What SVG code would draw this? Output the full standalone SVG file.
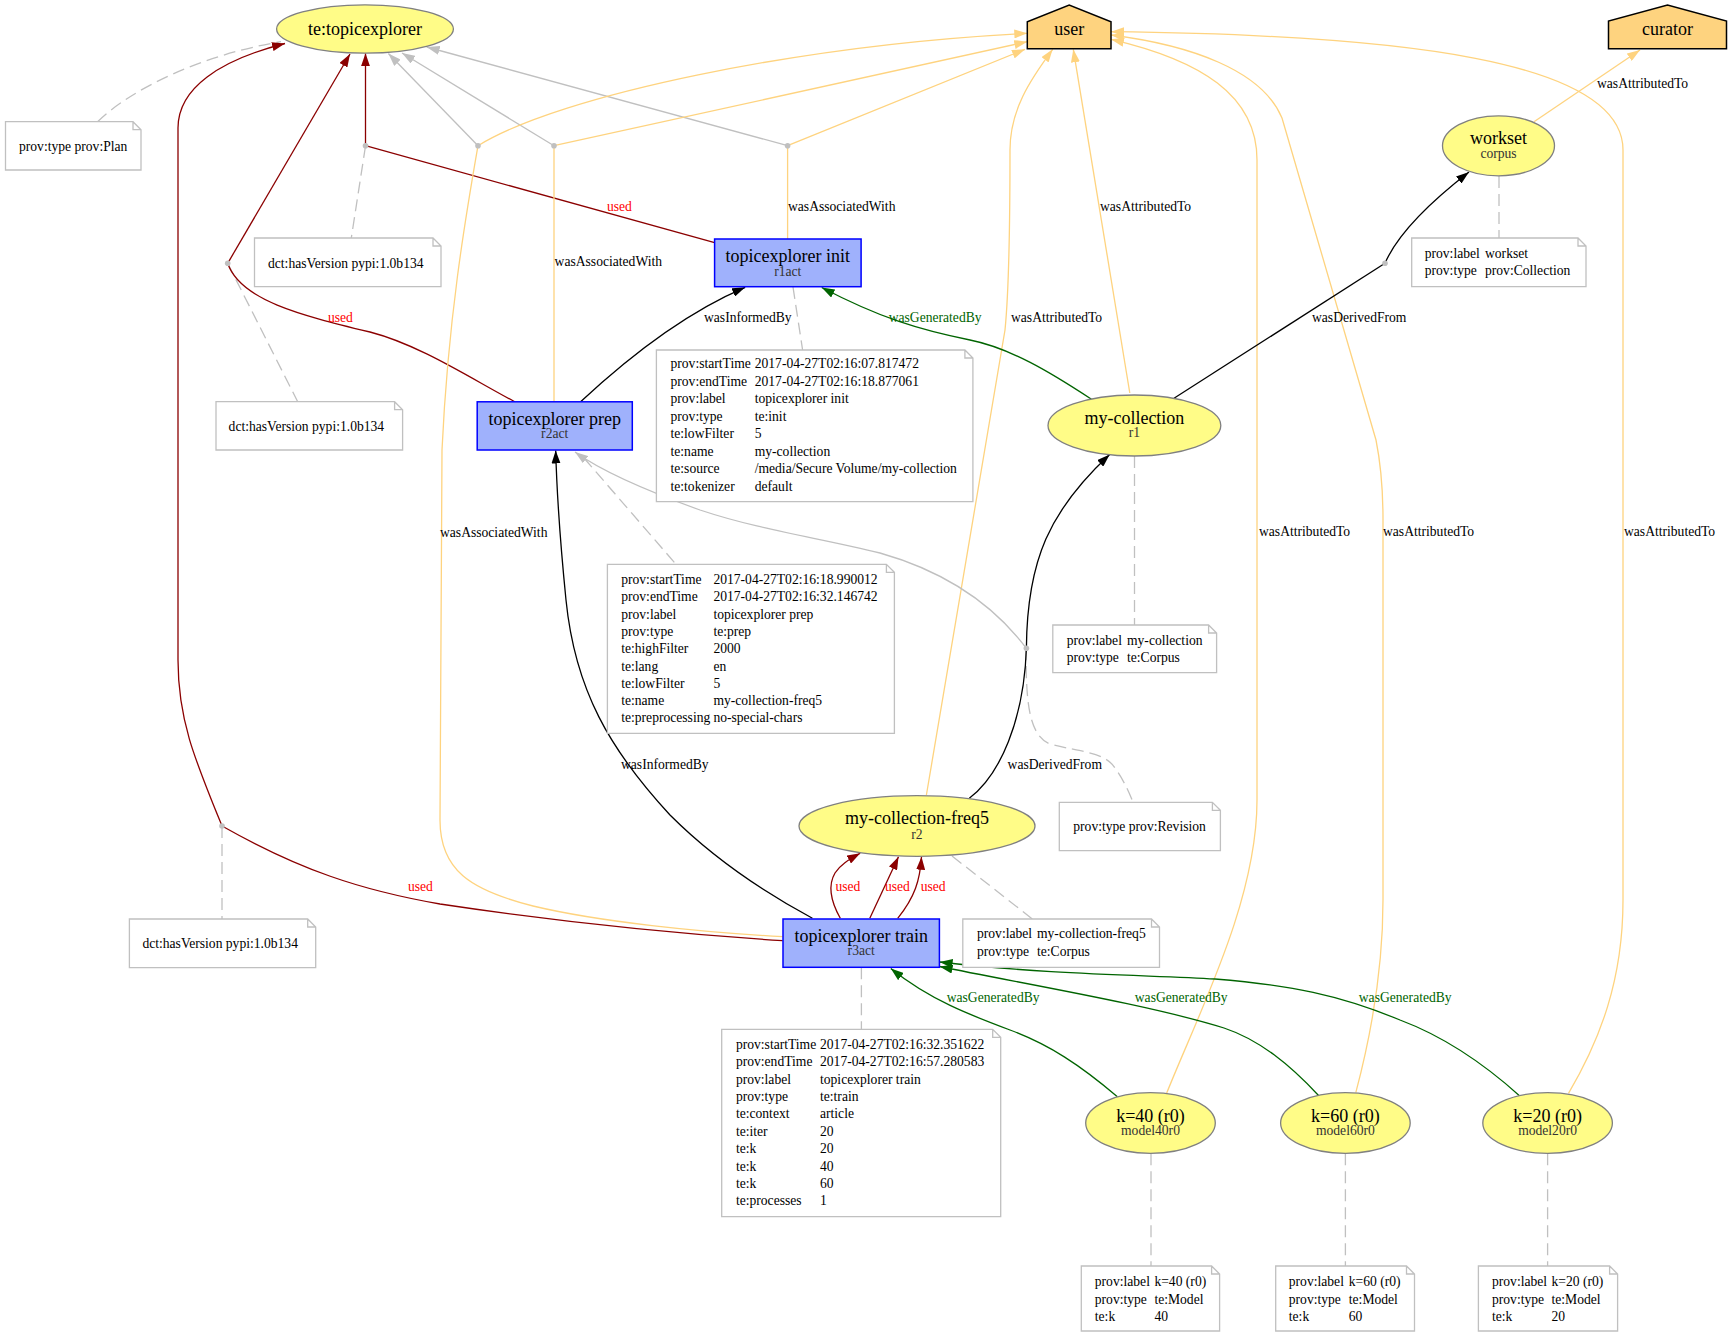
<svg xmlns="http://www.w3.org/2000/svg" width="1732" height="1337" viewBox="0 0 1732 1337">
<style>
.ent{fill:#FFFC87;stroke:#808080;stroke-width:1.3}
.act{fill:#9FB1FC;stroke:#0000FF;stroke-width:1.5}
.agt{fill:#FED37F;stroke:#000;stroke-width:1.5}
.note{fill:#fff;stroke:#C0C0C0;stroke-width:1.3}
.bn{fill:#C0C0C0;stroke:none}
.lbl{font-family:"Liberation Serif",serif;font-size:18px;text-anchor:middle;fill:#000}
.sub{font-family:"Liberation Serif",serif;font-size:13.6px;text-anchor:middle;fill:#333}
.nt{font-family:"Liberation Serif",serif;font-size:13.6px;fill:#000}
.el{font-family:"Liberation Serif",serif;font-size:13.6px;fill:#000}
.red{fill:#FF0000}
.grn{fill:#006400}
.e{fill:none;stroke-width:1.3}
.k{stroke:#000}
.dr{stroke:#8B0000}
.gy{stroke:#C0C0C0}
.gn{stroke:#006400}
.or{stroke:#FED37F}
.dash{fill:none;stroke:#C0C0C0;stroke-width:1.3;stroke-dasharray:12,6}
</style>
<defs>
<marker id="ak" markerUnits="userSpaceOnUse" viewBox="0 0 13 9" refX="13" refY="4.5" markerWidth="13" markerHeight="9" orient="auto"><path d="M0,0 L13,4.5 L0,9 Z" fill="#000"/></marker>
<marker id="ar" markerUnits="userSpaceOnUse" viewBox="0 0 13 9" refX="13" refY="4.5" markerWidth="13" markerHeight="9" orient="auto"><path d="M0,0 L13,4.5 L0,9 Z" fill="#8B0000"/></marker>
<marker id="ag" markerUnits="userSpaceOnUse" viewBox="0 0 13 9" refX="13" refY="4.5" markerWidth="13" markerHeight="9" orient="auto"><path d="M0,0 L13,4.5 L0,9 Z" fill="#C0C0C0"/></marker>
<marker id="agn" markerUnits="userSpaceOnUse" viewBox="0 0 13 9" refX="13" refY="4.5" markerWidth="13" markerHeight="9" orient="auto"><path d="M0,0 L13,4.5 L0,9 Z" fill="#006400"/></marker>
<marker id="ao" markerUnits="userSpaceOnUse" viewBox="0 0 13 9" refX="13" refY="4.5" markerWidth="13" markerHeight="9" orient="auto"><path d="M0,0 L13,4.5 L0,9 Z" fill="#FED37F"/></marker>
</defs>
<rect width="1732" height="1337" fill="#fff"/>

<g id="connectors">
<!-- note links -->
<path class="dash" d="M97.6,121.7 C130,90 200,55 281,41.7"/>
<path class="dash" d="M365.5,146 L351.3,238"/>
<path class="dash" d="M227.7,263.3 L297.7,401.7"/>
<path class="dash" d="M222,826 L222,919"/>
<path class="dash" d="M793,287 L802.6,350"/>
<path class="dash" d="M584,458 L676,564.3"/>
<path class="dash" d="M1499,176 L1499,238"/>
<path class="dash" d="M1134.5,456 L1134.5,625"/>
<path class="dash" d="M1026,648 C1026,700 1028,735 1050,744 C1080,752 1105,752 1115,768 C1125,782 1130,795 1133,802"/>
<path class="dash" d="M952,856 L1032.4,919"/>
<path class="dash" d="M861.4,967.3 L861.4,1029.3"/>
<path class="dash" d="M1151,1153.3 L1151,1266"/>
<path class="dash" d="M1345.4,1153.3 L1345.4,1266"/>
<path class="dash" d="M1547.6,1153.3 L1547.6,1266"/>

<!-- used (init) via b1 -->
<path class="e dr" d="M714.6,242.7 L365.5,145.7"/>
<path class="e dr" marker-end="url(#ar)" d="M365.5,145.7 L365.5,53.3"/>
<!-- used (prep) via b5 -->
<path class="e dr" d="M514.7,401.7 C470,378 420,345 370,332 C300,315 240,300 227.7,263.3"/>
<path class="e dr" marker-end="url(#ar)" d="M227.7,263.3 L350,54"/>
<!-- used (train) via b6 -->
<path class="e dr" d="M782.7,940.7 C680,934 560,922 440,904 C360,890 300,870 222,826"/>
<path class="e dr" marker-end="url(#ar)" d="M222,826 C195,760 178,720 178,660 L178,128 C178,88 220,60 285,43.5"/>

<!-- plan links (gray) -->
<path class="e gy" marker-end="url(#ag)" d="M478,145.7 L388.4,53.5"/>
<path class="e gy" marker-end="url(#ag)" d="M554,145.7 L402,53"/>
<path class="e gy" marker-end="url(#ag)" d="M787.6,145.7 L426.7,47"/>

<!-- wasAssociatedWith -->
<path class="e or" marker-end="url(#ao)" d="M478,145.7 C560,95 800,45 1027.3,33.3"/>
<path class="e or" d="M478,145.7 C465,220 448,320 442,450 L440,820 C440,870 470,890 533,906 C600,922 700,932 782.7,936.7"/>
<path class="e or" marker-end="url(#ao)" d="M554,145.7 L1027.3,41.7"/>
<path class="e or" d="M554,145.7 L554,401.7"/>
<path class="e or" marker-end="url(#ao)" d="M787.6,145.7 L1025,49.3"/>
<path class="e or" d="M787.6,145.7 L787.6,239"/>

<!-- wasAttributedTo -->
<path class="e or" marker-end="url(#ao)" d="M926.4,795 L1005,330 C1010,280 1010,200 1010,150 C1010,110 1030,80 1052.7,49.3"/>
<path class="e or" marker-end="url(#ao)" d="M1129.8,393 L1073.3,49.3"/>
<path class="e or" marker-end="url(#ao)" d="M1166.6,1093.3 C1200,1010 1257,900 1257,800 L1257,160 C1257,95 1200,60 1111,39.3"/>
<path class="e or" marker-end="url(#ao)" d="M1355.8,1092.7 C1375,1020 1383,960 1383,900 L1383,520 C1383,480 1380,460 1376,440 L1282,118 C1262,70 1190,45 1111,35"/>
<path class="e or" marker-end="url(#ao)" d="M1568.5,1093.3 C1600,1040 1623,980 1623,900 L1623,150 C1623,60 1400,35 1111,31.7"/>
<path class="e or" marker-end="url(#ao)" d="M1534,121.7 L1640,50"/>

<!-- wasInformedBy -->
<path class="e k" marker-end="url(#ak)" d="M580.6,401.7 C620,365 680,315 745.2,287.3"/>
<path class="e k" marker-end="url(#ak)" d="M812.4,918.3 C760,890 710,855 670,815 C610,750 575,690 566,600 C562,560 557,500 555.7,450.5"/>

<!-- wasGeneratedBy -->
<path class="e gn" marker-end="url(#agn)" d="M1091.5,399.3 C1050,372 1010,348 970,340 C920,330 880,318 821.7,287.5"/>
<path class="e gn" marker-end="url(#agn)" d="M1117.4,1096.7 C1080,1065 1050,1045 1010,1030 C970,1015 930,1000 890.8,968.5"/>
<path class="e gn" marker-end="url(#agn)" d="M1318.8,1095.7 C1290,1065 1260,1040 1224,1028 C1150,1005 1030,985 939.6,966.5"/>
<path class="e gn" marker-end="url(#agn)" d="M1520.6,1096.7 C1480,1060 1440,1035 1400,1020 C1340,995 1290,985 1215,979 C1150,975 1050,975 939.6,962"/>

<!-- wasDerivedFrom -->
<path class="e k" d="M1174,398.3 L1385,263.3"/>
<path class="e k" marker-end="url(#ak)" d="M1385,263.3 C1395,240 1420,210 1469,172"/>
<path class="e k" d="M969.3,798.3 C1000,775 1024,720 1026.4,648.3"/>
<path class="e k" marker-end="url(#ak)" d="M1026.4,648.3 C1027,560 1050,510 1109.7,454.5"/>
<path class="e gy" marker-end="url(#ag)" d="M1026.4,648.3 C990,600 940,570 880,553 C820,538 760,530 700,510 C650,492 600,470 575,452"/>

<!-- used freq5 -->
<path class="e dr" marker-end="url(#ar)" d="M840.3,918.3 C830,900 828,885 835,873 C840,865 848,860 860.2,853.3"/>
<path class="e dr" marker-end="url(#ar)" d="M869.8,918.3 L898.5,856.7"/>
<path class="e dr" marker-end="url(#ar)" d="M897.7,918.3 C915,897 920,880 921.5,856.7"/>

<!-- blank nodes -->
<circle class="bn" cx="365.5" cy="145.7" r="2.8"/>
<circle class="bn" cx="478" cy="145.7" r="2.8"/>
<circle class="bn" cx="554" cy="145.7" r="2.8"/>
<circle class="bn" cx="787.6" cy="145.7" r="2.8"/>
<circle class="bn" cx="227.7" cy="263.3" r="2.8"/>
<circle class="bn" cx="222" cy="826" r="2.8"/>
<circle class="bn" cx="1385" cy="263.3" r="2.8"/>
<circle class="bn" cx="1026.4" cy="648.3" r="2.8"/>

<!-- edge labels -->
<text class="el red" x="607" y="211">used</text>
<text class="el" x="788" y="211">wasAssociatedWith</text>
<text class="el" x="554.6" y="266">wasAssociatedWith</text>
<text class="el red" x="328" y="322">used</text>
<text class="el" x="704" y="322">wasInformedBy</text>
<text class="el grn" x="888.7" y="322">wasGeneratedBy</text>
<text class="el" x="1011" y="322">wasAttributedTo</text>
<text class="el" x="1100" y="211">wasAttributedTo</text>
<text class="el" x="1312" y="322">wasDerivedFrom</text>
<text class="el" x="1597" y="88">wasAttributedTo</text>
<text class="el" x="440" y="536.5">wasAssociatedWith</text>
<text class="el" x="1259" y="536">wasAttributedTo</text>
<text class="el" x="1383" y="536">wasAttributedTo</text>
<text class="el" x="1624" y="536">wasAttributedTo</text>
<text class="el" x="621" y="768.5">wasInformedBy</text>
<text class="el" x="1007.6" y="768.5">wasDerivedFrom</text>
<text class="el red" x="408" y="891">used</text>
<text class="el red" x="835.4" y="891">used</text>
<text class="el red" x="885" y="891">used</text>
<text class="el red" x="920.7" y="891">used</text>
<text class="el grn" x="946.7" y="1002">wasGeneratedBy</text>
<text class="el grn" x="1134.8" y="1002">wasGeneratedBy</text>
<text class="el grn" x="1358.8" y="1002">wasGeneratedBy</text>
</g>

<g id="te-topicexplorer">
<ellipse class="ent" cx="365" cy="29" rx="88.4" ry="24.2"/>
<text class="lbl" x="365" y="35">te:topicexplorer</text>
</g>
<g id="user">
<polygon class="agt" points="1027.3,48.7 1111,48.7 1111,21.7 1069.2,5 1027.3,21.7"/>
<text class="lbl" x="1069.2" y="35">user</text>
</g>
<g id="curator">
<polygon class="agt" points="1608.5,48.7 1726.5,48.7 1726.5,21 1667.5,5 1608.5,21"/>
<text class="lbl" x="1667.5" y="35">curator</text>
</g>
<g id="workset">
<ellipse class="ent" cx="1498.5" cy="145.8" rx="56" ry="30"/>
<text class="lbl" x="1498.5" y="144">workset</text>
<text class="sub" x="1498.5" y="158">corpus</text>
</g>
<g id="init">
<rect class="act" x="714.6" y="239" width="146.5" height="47.7"/>
<text class="lbl" x="787.8" y="262">topicexplorer init</text>
<text class="sub" x="787.8" y="275.5">r1act</text>
</g>
<g id="prep">
<rect class="act" x="477.2" y="401.8" width="155.1" height="48.2"/>
<text class="lbl" x="554.7" y="424.5">topicexplorer prep</text>
<text class="sub" x="554.7" y="438">r2act</text>
</g>
<g id="my-collection">
<ellipse class="ent" cx="1134.4" cy="425.5" rx="86.4" ry="30.5"/>
<text class="lbl" x="1134.4" y="423.5">my-collection</text>
<text class="sub" x="1134.4" y="437">r1</text>
</g>
<g id="my-collection-freq5">
<ellipse class="ent" cx="917" cy="826" rx="118" ry="30.3"/>
<text class="lbl" x="917" y="824">my-collection-freq5</text>
<text class="sub" x="917" y="839">r2</text>
</g>
<g id="train">
<rect class="act" x="783" y="919" width="156.4" height="48.3"/>
<text class="lbl" x="861.2" y="941.5">topicexplorer train</text>
<text class="sub" x="861.2" y="955">r3act</text>
</g>
<g id="k40">
<ellipse class="ent" cx="1150.5" cy="1123" rx="64.8" ry="30.3"/>
<text class="lbl" x="1150.5" y="1121.5">k=40 (r0)</text>
<text class="sub" x="1150.5" y="1135">model40r0</text>
</g>
<g id="k60">
<ellipse class="ent" cx="1345.4" cy="1123" rx="64.8" ry="30.3"/>
<text class="lbl" x="1345.4" y="1121.5">k=60 (r0)</text>
<text class="sub" x="1345.4" y="1135">model60r0</text>
</g>
<g id="k20">
<ellipse class="ent" cx="1547.6" cy="1123" rx="64.8" ry="30.3"/>
<text class="lbl" x="1547.6" y="1121.5">k=20 (r0)</text>
<text class="sub" x="1547.6" y="1135">model20r0</text>
</g>

<g id="note-plan">
<path class="note" d="M5.5,121.7 H133 L141,129.7 V170 H5.5 Z M133,121.7 V129.7 H141"/>
<text class="nt" x="19" y="150.5">prov:type prov:Plan</text>
</g>
<g id="note-ver1">
<path class="note" d="M254.5,238 H433 L441,246 V286.7 H254.5 Z M433,238 V246 H441"/>
<text class="nt" x="268" y="267.5">dct:hasVersion pypi:1.0b134</text>
</g>
<g id="note-ver2">
<path class="note" d="M216,401.7 H394.6 L402.6,409.7 V450 H216 Z M394.6,401.7 V409.7 H402.6"/>
<text class="nt" x="228.6" y="431">dct:hasVersion pypi:1.0b134</text>
</g>
<g id="note-ver3">
<path class="note" d="M129.4,919 H307.7 L315.7,927 V967.7 H129.4 Z M307.7,919 V927 H315.7"/>
<text class="nt" x="142.4" y="948">dct:hasVersion pypi:1.0b134</text>
</g>
<g id="note-init">
<path class="note" d="M656.4,350 H964.9 L972.9,358 V501.7 H656.4 Z M964.9,350 V358 H972.9"/>
<text class="nt" x="670.5" y="368">prov:startTime</text><text class="nt" x="754.7" y="368">2017-04-27T02:16:07.817472</text>
<text class="nt" x="670.5" y="385.5">prov:endTime</text><text class="nt" x="754.7" y="385.5">2017-04-27T02:16:18.877061</text>
<text class="nt" x="670.5" y="403">prov:label</text><text class="nt" x="754.7" y="403">topicexplorer init</text>
<text class="nt" x="670.5" y="420.5">prov:type</text><text class="nt" x="754.7" y="420.5">te:init</text>
<text class="nt" x="670.5" y="438">te:lowFilter</text><text class="nt" x="754.7" y="438">5</text>
<text class="nt" x="670.5" y="455.5">te:name</text><text class="nt" x="754.7" y="455.5">my-collection</text>
<text class="nt" x="670.5" y="473">te:source</text><text class="nt" x="754.7" y="473">/media/Secure Volume/my-collection</text>
<text class="nt" x="670.5" y="490.5">te:tokenizer</text><text class="nt" x="754.7" y="490.5">default</text>
</g>
<g id="note-prep">
<path class="note" d="M607.4,564.3 H886.4 L894.4,572.3 V733.3 H607.4 Z M886.4,564.3 V572.3 H894.4"/>
<text class="nt" x="621.2" y="584">prov:startTime</text><text class="nt" x="713.4" y="584">2017-04-27T02:16:18.990012</text>
<text class="nt" x="621.2" y="601.3">prov:endTime</text><text class="nt" x="713.4" y="601.3">2017-04-27T02:16:32.146742</text>
<text class="nt" x="621.2" y="618.6">prov:label</text><text class="nt" x="713.4" y="618.6">topicexplorer prep</text>
<text class="nt" x="621.2" y="635.9">prov:type</text><text class="nt" x="713.4" y="635.9">te:prep</text>
<text class="nt" x="621.2" y="653.2">te:highFilter</text><text class="nt" x="713.4" y="653.2">2000</text>
<text class="nt" x="621.2" y="670.5">te:lang</text><text class="nt" x="713.4" y="670.5">en</text>
<text class="nt" x="621.2" y="687.8">te:lowFilter</text><text class="nt" x="713.4" y="687.8">5</text>
<text class="nt" x="621.2" y="705.1">te:name</text><text class="nt" x="713.4" y="705.1">my-collection-freq5</text>
<text class="nt" x="621.2" y="722.4">te:preprocessing</text><text class="nt" x="713.4" y="722.4">no-special-chars</text>
</g>
<g id="note-mycollection">
<path class="note" d="M1052.8,625 H1208.6 L1216.6,633 V672.7 H1052.8 Z M1208.6,625 V633 H1216.6"/>
<text class="nt" x="1066.8" y="645">prov:label</text><text class="nt" x="1127" y="645">my-collection</text>
<text class="nt" x="1066.8" y="662">prov:type</text><text class="nt" x="1127" y="662">te:Corpus</text>
</g>
<g id="note-revision">
<path class="note" d="M1059.3,802.3 H1212.4 L1220.4,810.3 V850.7 H1059.3 Z M1212.4,802.3 V810.3 H1220.4"/>
<text class="nt" x="1073.3" y="830.5">prov:type prov:Revision</text>
</g>
<g id="note-workset">
<path class="note" d="M1411.7,238 H1578 L1586,246 V286.7 H1411.7 Z M1578,238 V246 H1586"/>
<text class="nt" x="1424.7" y="258">prov:label</text><text class="nt" x="1485" y="258">workset</text>
<text class="nt" x="1424.7" y="275">prov:type</text><text class="nt" x="1485" y="275">prov:Collection</text>
</g>
<g id="note-freq5">
<path class="note" d="M962.8,919 H1151.5 L1159.5,927 V967.3 H962.8 Z M1151.5,919 V927 H1159.5"/>
<text class="nt" x="977" y="938">prov:label</text><text class="nt" x="1037" y="938">my-collection-freq5</text>
<text class="nt" x="977" y="955.5">prov:type</text><text class="nt" x="1037" y="955.5">te:Corpus</text>
</g>
<g id="note-train">
<path class="note" d="M721.7,1029.3 H992.7 L1000.7,1037.3 V1216.7 H721.7 Z M992.7,1029.3 V1037.3 H1000.7"/>
<text class="nt" x="735.9" y="1048.8">prov:startTime</text><text class="nt" x="820" y="1048.8">2017-04-27T02:16:32.351622</text>
<text class="nt" x="735.9" y="1066.2">prov:endTime</text><text class="nt" x="820" y="1066.2">2017-04-27T02:16:57.280583</text>
<text class="nt" x="735.9" y="1083.6">prov:label</text><text class="nt" x="820" y="1083.6">topicexplorer train</text>
<text class="nt" x="735.9" y="1101">prov:type</text><text class="nt" x="820" y="1101">te:train</text>
<text class="nt" x="735.9" y="1118.4">te:context</text><text class="nt" x="820" y="1118.4">article</text>
<text class="nt" x="735.9" y="1135.8">te:iter</text><text class="nt" x="820" y="1135.8">20</text>
<text class="nt" x="735.9" y="1153.2">te:k</text><text class="nt" x="820" y="1153.2">20</text>
<text class="nt" x="735.9" y="1170.6">te:k</text><text class="nt" x="820" y="1170.6">40</text>
<text class="nt" x="735.9" y="1188">te:k</text><text class="nt" x="820" y="1188">60</text>
<text class="nt" x="735.9" y="1205.4">te:processes</text><text class="nt" x="820" y="1205.4">1</text>
</g>
<g id="note-k40">
<path class="note" d="M1081.3,1266 H1211.6 L1219.6,1274 V1331 H1081.3 Z M1211.6,1266 V1274 H1219.6"/>
<text class="nt" x="1094.8" y="1286">prov:label</text><text class="nt" x="1154.4" y="1286">k=40 (r0)</text>
<text class="nt" x="1094.8" y="1303.5">prov:type</text><text class="nt" x="1154.4" y="1303.5">te:Model</text>
<text class="nt" x="1094.8" y="1320.5">te:k</text><text class="nt" x="1154.4" y="1320.5">40</text>
</g>
<g id="note-k60">
<path class="note" d="M1275.7,1266 H1406.5 L1414.5,1274 V1331 H1275.7 Z M1406.5,1266 V1274 H1414.5"/>
<text class="nt" x="1288.8" y="1286">prov:label</text><text class="nt" x="1348.8" y="1286">k=60 (r0)</text>
<text class="nt" x="1288.8" y="1303.5">prov:type</text><text class="nt" x="1348.8" y="1303.5">te:Model</text>
<text class="nt" x="1288.8" y="1320.5">te:k</text><text class="nt" x="1348.8" y="1320.5">60</text>
</g>
<g id="note-k20">
<path class="note" d="M1478.4,1266 H1609.6 L1617.6,1274 V1331 H1478.4 Z M1609.6,1266 V1274 H1617.6"/>
<text class="nt" x="1492" y="1286">prov:label</text><text class="nt" x="1551.5" y="1286">k=20 (r0)</text>
<text class="nt" x="1492" y="1303.5">prov:type</text><text class="nt" x="1551.5" y="1303.5">te:Model</text>
<text class="nt" x="1492" y="1320.5">te:k</text><text class="nt" x="1551.5" y="1320.5">20</text>
</g>
</svg>
